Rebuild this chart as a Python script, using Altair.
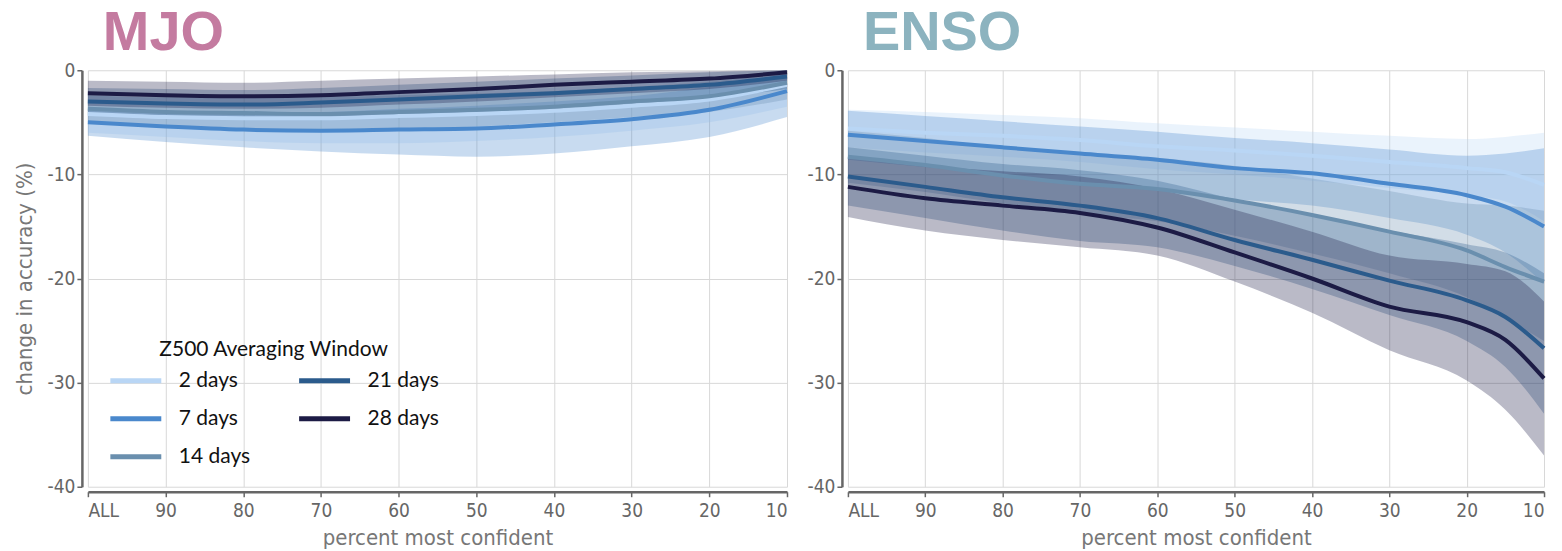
import altair as alt
import pandas as pd

SERIES = ["2 days", "7 days", "14 days", "21 days", "28 days"]
COLORS = ["#b9d6f5", "#4a88cc", "#6a8fae", "#2b5b8c", "#1c1b45"]

# ---------------- MJO ----------------
MJO_X = [100, 90, 80, 70, 60, 50, 40, 30, 20, 10]
MJO_LINE = {
    "2 days":  [-4.2, -4.5, -4.6, -4.6, -4.4, -4.2, -3.9, -3.4, -2.8, -1.4],
    "7 days":  [-5.0, -5.4, -5.7, -5.8, -5.7, -5.6, -5.2, -4.7, -3.8, -2.0],
    "14 days": [-3.7, -4.0, -4.1, -4.2, -4.0, -3.8, -3.5, -3.0, -2.5, -1.2],
    "21 days": [-3.0, -3.2, -3.3, -3.1, -2.8, -2.5, -2.2, -1.8, -1.4, -0.6],
    "28 days": [-2.2, -2.4, -2.5, -2.4, -2.1, -1.8, -1.4, -1.1, -0.8, -0.2],
}
MJO_LOW = {
    "2 days":  [-6.0, -6.4, -6.8, -7.0, -7.0, -6.8, -6.4, -5.8, -5.0, -3.5],
    "7 days":  [-6.3, -6.9, -7.4, -7.8, -8.1, -8.3, -8.0, -7.3, -6.4, -4.5],
    "14 days": [-5.0, -5.4, -5.6, -5.8, -5.6, -5.4, -5.0, -4.5, -4.0, -2.8],
    "21 days": [-4.3, -4.6, -4.7, -4.6, -4.3, -4.0, -3.6, -3.2, -2.7, -1.8],
    "28 days": [-3.4, -3.6, -3.7, -3.6, -3.3, -3.0, -2.6, -2.2, -1.8, -1.0],
}
MJO_HIGH = {
    "2 days":  [-2.4, -2.6, -2.6, -2.5, -2.3, -2.0, -1.7, -1.3, -0.9, -0.2],
    "7 days":  [-3.7, -3.9, -4.0, -4.0, -3.7, -3.4, -3.0, -2.5, -1.6, -0.6],
    "14 days": [-2.4, -2.6, -2.6, -2.6, -2.4, -2.2, -2.0, -1.6, -1.1, -0.3],
    "21 days": [-1.7, -1.8, -1.9, -1.7, -1.4, -1.1, -0.8, -0.5, -0.2, 0.0],
    "28 days": [-1.0, -1.1, -1.2, -1.0, -0.8, -0.6, -0.4, -0.2, -0.1, 0.0],
}

# ---------------- ENSO ----------------
ENSO_X = [100, 90, 80, 70, 60, 50, 40, 30, 20, 15, 10]
ENSO_LINE = {
    "2 days":  [-5.6, -6.0, -6.3, -6.7, -7.3, -7.7, -8.2, -8.8, -9.4, -9.8, -11.0],
    "7 days":  [-6.2, -6.8, -7.4, -8.0, -8.6, -9.4, -9.9, -10.9, -12.0, -13.1, -15.0],
    "14 days": [-8.3, -9.1, -10.1, -10.9, -11.4, -12.5, -13.9, -15.5, -17.3, -18.9, -20.3],
    "21 days": [-10.2, -11.2, -12.2, -13.0, -14.2, -16.3, -18.2, -20.2, -22.1, -23.7, -26.7],
    "28 days": [-11.2, -12.3, -13.0, -13.7, -15.1, -17.5, -20.0, -22.7, -24.2, -25.9, -29.6],
}
ENSO_LOW = {
    "2 days":  [-7.4, -7.9, -8.3, -8.8, -9.5, -10.0, -10.6, -11.3, -12.0, -12.6, -14.5],
    "7 days":  [-8.6, -9.3, -10.0, -10.8, -11.5, -12.4, -13.0, -14.2, -15.8, -17.5, -20.5],
    "14 days": [-10.8, -11.7, -12.8, -13.8, -14.5, -15.9, -17.6, -19.5, -21.8, -23.8, -26.0],
    "21 days": [-13.0, -14.2, -15.4, -16.4, -17.0, -18.8, -21.0, -23.5, -26.0, -28.5, -33.0],
    "28 days": [-14.1, -15.4, -16.3, -17.0, -17.8, -20.3, -23.3, -26.9, -29.8, -32.6, -37.0],
}
ENSO_HIGH = {
    "2 days":  [-3.8, -4.0, -4.3, -4.6, -5.1, -5.5, -5.9, -6.3, -6.6, -6.4, -6.0],
    "7 days":  [-3.9, -4.4, -4.9, -5.4, -5.9, -6.5, -7.0, -7.6, -8.2, -8.0, -7.5],
    "14 days": [-5.8, -6.5, -7.4, -8.0, -8.4, -9.2, -10.4, -11.6, -12.8, -13.0, -13.5],
    "21 days": [-7.4, -8.2, -9.0, -9.6, -10.6, -12.4, -13.9, -15.4, -16.7, -17.5, -19.5],
    "28 days": [-8.3, -9.2, -9.7, -10.2, -11.4, -13.4, -15.5, -17.8, -18.6, -19.3, -22.2],
}

X_TICKS = [100, 90, 80, 70, 60, 50, 40, 30, 20, 10]
Y_TICKS = [0, -10, -20, -30, -40]


def make_df(xs, line, low, high):
    rows = []
    for si, s in enumerate(SERIES):
        for i, x in enumerate(xs):
            rows.append({"x": x, "series": s, "order": si,
                         "v": line[s][i], "lo": low[s][i], "hi": high[s][i]})
    return pd.DataFrame(rows)


AXIS_FONT = "Liberation Sans Narrow, DejaVu Sans Condensed, Noto Sans"


def panel(df, title, title_color, show_y_title, show_legend, width):
    xenc = alt.X("x:Q",
                 scale=alt.Scale(domain=[100, 10], nice=False, zero=False),
                 axis=alt.Axis(values=X_TICKS, title="percent most confident",
                               labelExpr="datum.value == 100 ? 'ALL' : datum.value",
                               offset=5, grid=True, labelPadding=5, titlePadding=7))
    yaxis = alt.Axis(values=Y_TICKS,
                     title="change in accuracy (%)" if show_y_title else None,
                     labelExpr="datum.value == 0 ? '0' : '-' + abs(datum.value)",
                     offset=6, grid=True, titlePadding=11)
    # band fill scale lists the domain in reverse so it is not merged with the stroke legend
    band = alt.Chart(df).mark_area(opacity=0.3, interpolate="monotone").encode(
        x=xenc,
        y=alt.Y("lo:Q", scale=alt.Scale(domain=[-40, 0], nice=False), axis=yaxis),
        y2="hi:Q",
        fill=alt.Fill("series:N", scale=alt.Scale(domain=SERIES[::-1], range=COLORS[::-1]),
                      legend=None),
        detail="series:N",
    )
    if show_legend:
        leg = alt.Legend(title="Z500 Averaging Window", orient="bottom-left",
                         columns=2, symbolType="stroke", symbolSize=2600,
                         symbolStrokeWidth=5, labelFontSize=21, titleFontSize=21,
                         titleFontWeight="normal", labelFont="Lato", titleFont="Lato",
                         labelColor="#111", titleColor="#111", columnPadding=38,
                         rowPadding=-24, labelOffset=15, offset=16, titlePadding=-7,
                         titleLimit=500, titleAnchor="middle",
                         symbolOpacity=1, padding=4)
    else:
        leg = None
    stroke = alt.Stroke("series:N",
                        scale=alt.Scale(domain=SERIES, range=COLORS),
                        legend=leg)
    line = alt.Chart(df).mark_line(strokeWidth=4, interpolate="monotone").encode(
        x=xenc,
        y=alt.Y("v:Q", scale=alt.Scale(domain=[-40, 0], nice=False), axis=yaxis),
        stroke=stroke,
        order="order:Q",
    )
    return alt.layer(band, line).properties(
        width=width, height=417,
        title=alt.TitleParams(title, anchor="start", frame="group", fontSize=56,
                              font="Liberation Sans", fontWeight="bold",
                              color=title_color, dx=15, offset=-1),
    )


mjo = panel(make_df(MJO_X, MJO_LINE, MJO_LOW, MJO_HIGH), "MJO", "#c47ba0", True, True, 700)
enso = panel(make_df(ENSO_X, ENSO_LINE, ENSO_LOW, ENSO_HIGH), "ENSO", "#8cb3bf", False, False, 697)

chart = alt.hconcat(mjo, enso, spacing=12).resolve_scale(
    stroke="independent", fill="independent"
).resolve_legend(
    stroke="independent", fill="independent"
).properties(
    padding={"left": 13, "top": 5, "right": 10, "bottom": 2},
    background="white",
).configure_view(stroke=None).configure_axis(
    labelFont=AXIS_FONT, titleFont=AXIS_FONT, labelFontSize=19, titleFontSize=22,
    labelColor="#666", titleColor="#777", titleFontWeight="normal",
    domainColor="#666", domainWidth=2.5, tickColor="#666", tickSize=5, tickWidth=1.5,
    gridColor="#d8d8d8", gridWidth=1,
)

chart.save("out.html", embed_options={"renderer": "svg", "actions": False})
